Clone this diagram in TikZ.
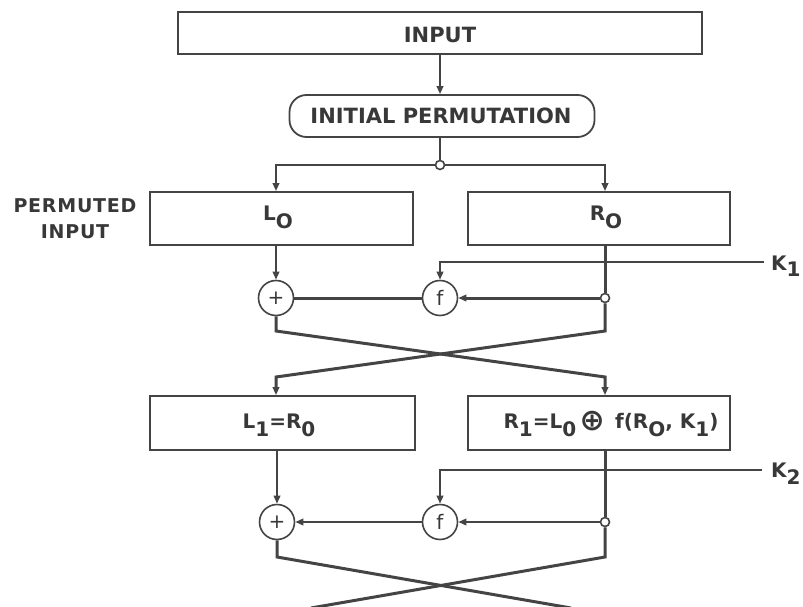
\documentclass[tikz,border=0pt]{standalone}
\usepackage{fontspec}
\setmainfont{DejaVu Sans}
\usetikzlibrary{arrows.meta}
\definecolor{linec}{HTML}{444444}
\definecolor{textc}{HTML}{383838}
\newcommand\lsub[1]{\raisebox{-8pt}{#1}}
\newcommand\cplus{\raisebox{-2.5pt}{\fontsize{30}{30}\selectfont ⊕}}
\begin{document}
\begin{tikzpicture}[x=1pt,y=-1pt,
  ln/.style={draw=linec, line width=2.0pt},
  thk/.style={draw=linec, line width=3.0pt},
  arr/.style={-{Triangle[length=8pt,width=6.5pt]}},
  box/.style={draw=linec, line width=1.8pt, rectangle, inner sep=0pt},
  txt/.style={text=textc, font=\bfseries\fontsize{20}{20}\selectfont, inner sep=0pt},
  circ/.style={draw=linec, line width=1.6pt, circle, minimum size=35pt, inner sep=0pt, fill=white,
     text=textc, font=\fontsize{20}{20}\selectfont},
  tap/.style={draw=linec, line width=1.6pt, circle, minimum size=9pt, inner sep=0pt, fill=white}
]
\useasboundingbox (0,0) rectangle (803,607);

% top
\node[box, minimum width=524pt, minimum height=42pt] (input) at (440,33) {};
\node[txt, font=\bfseries\fontsize{21}{21}\selectfont] (inputt) at (440,35) {INPUT};
\node[box, rounded corners=17pt, minimum width=305pt, minimum height=42pt] (ip) at (442,116) {};
\node[txt, font=\bfseries\fontsize{21}{21}\selectfont] (ipt) at (441,116) {INITIAL PERMUTATION};
\draw[ln,arr] (input.south -| 440,0) -- (ip.north -| 440,0);

\node[tap] (split) at (440,165) {};
\draw[ln] (ip.south -| split) -- (split.north);

% round 0 boxes
\node[box, minimum width=263pt, minimum height=53pt] (l0) at (281.5,218.5) {};
\node[box, minimum width=262pt, minimum height=53pt] (r0) at (599,218.5) {};
\node[txt, anchor=base] (l0t) at (278,220) {L\lsub{O}};
\node[txt, anchor=base] (r0t) at (606,220) {R\lsub{O}};
\node[txt, align=center, font=\bfseries\fontsize{19}{26}\selectfont\addfontfeature{LetterSpace=4}] (perm) at (75,219) {PERMUTED\\INPUT};

\coordinate (sl) at (276,165);
\coordinate (sr) at (605,165);
\draw[ln,arr] (split.west) -- (sl) -- (sl |- l0.north);
\draw[ln,arr] (split.east) -- (sr) -- (sr |- r0.north);

% round 1
\node[circ] (p1) at (276,298) {+};
\node[circ] (f1) at (440,298) {f};
\node[tap] (t1) at (605,298) {};
\draw[ln,arr] (l0.south -| p1) -- (p1.north);
\draw[thk] (r0.south -| t1) -- (t1.north);
\coordinate (k1e) at (764,262);
\node[txt, anchor=base west] (k1) at (771,270) {K\raisebox{-6pt}{1}};
\draw[ln,arr] (k1e) -- (f1.north |- k1e) -- (f1.north);
\draw[thk,arr] (t1.west) -- (f1.east);
\draw[thk] (f1.west) -- (p1.east);

\coordinate (a1) at (276,331);
\coordinate (b1) at (605,331);
\coordinate (c1) at (276,377);
\coordinate (d1) at (605,377);

% round 1 boxes
\node[box, minimum width=265pt, minimum height=54pt] (l1) at (282.5,423) {};
\node[box, minimum width=262pt, minimum height=54pt] (r1) at (599,423) {};
\node[txt, anchor=base] (l1t) at (279,428) {L\lsub{1}=R\lsub{0}};
\node[txt, anchor=base] (r1t) at (611,428) {R\lsub{1}=L\lsub{0}\,\cplus\, f(R\lsub{O}, K\lsub{1})};

\draw[thk,arr] (p1.south) -- (a1) -- (d1) -- (d1 |- r1.north);
\draw[thk,arr] (t1.south) -- (b1) -- (c1) -- (c1 |- l1.north);

% round 2
\node[circ] (p2) at (277,522) {+};
\node[circ] (f2) at (440,522) {f};
\node[tap] (t2) at (605,522) {};
\draw[ln,arr] (l1.south -| p2) -- (p2.north);
\draw[thk] (r1.south -| t2) -- (t2.north);
\coordinate (k2e) at (762,470);
\node[txt, anchor=base west] (k2) at (771,477) {K\raisebox{-7pt}{2}};
\draw[ln,arr] (k2e) -- (f2.north |- k2e) -- (f2.north);
\draw[ln,arr] (t2.west) -- (f2.east);
\draw[ln,arr] (f2.west) -- (p2.east);

\coordinate (a2) at (277,557);
\coordinate (b2) at (605,557);
\coordinate (c2) at (311,608);
\coordinate (d2) at (571,608);
\draw[thk] (p2.south) -- (a2) -- (d2);
\draw[thk] (t2.south) -- (b2) -- (c2);
\end{tikzpicture}
\end{document}
